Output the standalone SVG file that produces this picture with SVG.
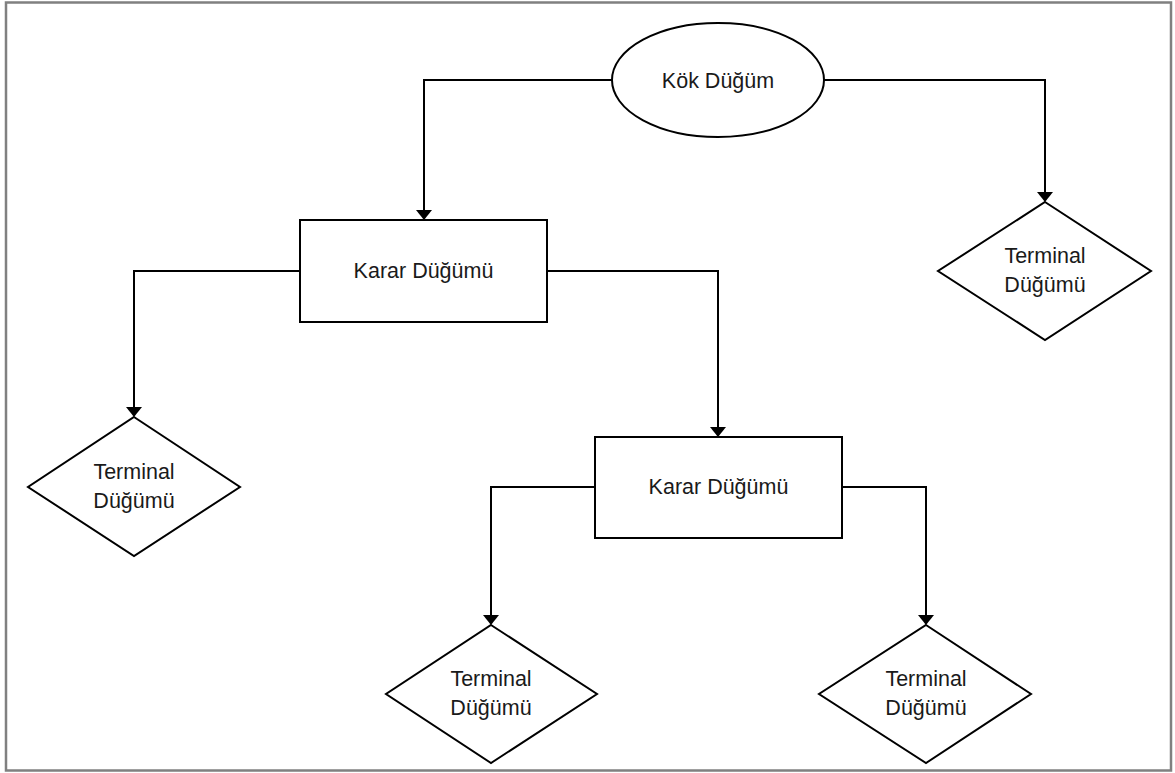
<svg xmlns="http://www.w3.org/2000/svg" width="1175" height="773" viewBox="0 0 1175 773">
  <style>
    .shape { fill: #ffffff; stroke: #000000; stroke-width: 2; }
    .wire { fill: none; stroke: #000000; stroke-width: 2; }
    .head { fill: #000000; }
    .label { font-family: "Liberation Sans", Arial, sans-serif; font-size: 21.5px; fill: #1a1a1a; text-anchor: middle; }
  </style>

  <!-- outer frame -->
  <rect x="6" y="2.5" width="1165" height="768" fill="#ffffff" stroke="#808080" stroke-width="2.5"/>

  <!-- connectors: elbow lines with downward arrowheads -->
  <g id="connectors">
    <path class="wire" d="M612,80 H424 V211"/>
    <path class="head" d="M416,210 L432,210 L424,220 Z"/>
    <path class="wire" d="M824,80 H1045 V193"/>
    <path class="head" d="M1037,192 L1053,192 L1045,202 Z"/>
    <path class="wire" d="M300,271 H134 V408"/>
    <path class="head" d="M126,407 L142,407 L134,417 Z"/>
    <path class="wire" d="M547,271 H718 V428"/>
    <path class="head" d="M710,427 L726,427 L718,437 Z"/>
    <path class="wire" d="M595,487 H491 V616"/>
    <path class="head" d="M483,615 L499,615 L491,625 Z"/>
    <path class="wire" d="M842,487 H926 V616"/>
    <path class="head" d="M918,615 L934,615 L926,625 Z"/>
  </g>

  <!-- root node -->
  <g id="root">
    <ellipse class="shape" cx="718" cy="80" rx="106" ry="57"/>
    <text class="label" x="718" y="88">Kök Düğüm</text>
  </g>

  <!-- decision nodes -->
  <g id="decision-1">
    <rect class="shape" x="300" y="220" width="247" height="102"/>
    <text class="label" x="423.5" y="278">Karar Düğümü</text>
  </g>
  <g id="decision-2">
    <rect class="shape" x="595" y="437" width="247" height="101"/>
    <text class="label" x="718.5" y="494">Karar Düğümü</text>
  </g>

  <!-- terminal nodes -->
  <g id="terminal-1">
    <polygon class="shape" points="1045,202 1151,271 1045,340 938,271"/>
    <text class="label" x="1045" y="263">Terminal</text>
    <text class="label" x="1045" y="292">Düğümü</text>
  </g>
  <g id="terminal-2">
    <polygon class="shape" points="134,417 240,487 134,556 28,487"/>
    <text class="label" x="134" y="479">Terminal</text>
    <text class="label" x="134" y="508">Düğümü</text>
  </g>
  <g id="terminal-3">
    <polygon class="shape" points="491,625 597,694 491,763 386,694"/>
    <text class="label" x="491" y="686">Terminal</text>
    <text class="label" x="491" y="715">Düğümü</text>
  </g>
  <g id="terminal-4">
    <polygon class="shape" points="926,625 1031,694 926,763 819,694"/>
    <text class="label" x="926" y="686">Terminal</text>
    <text class="label" x="926" y="715">Düğümü</text>
  </g>
</svg>
